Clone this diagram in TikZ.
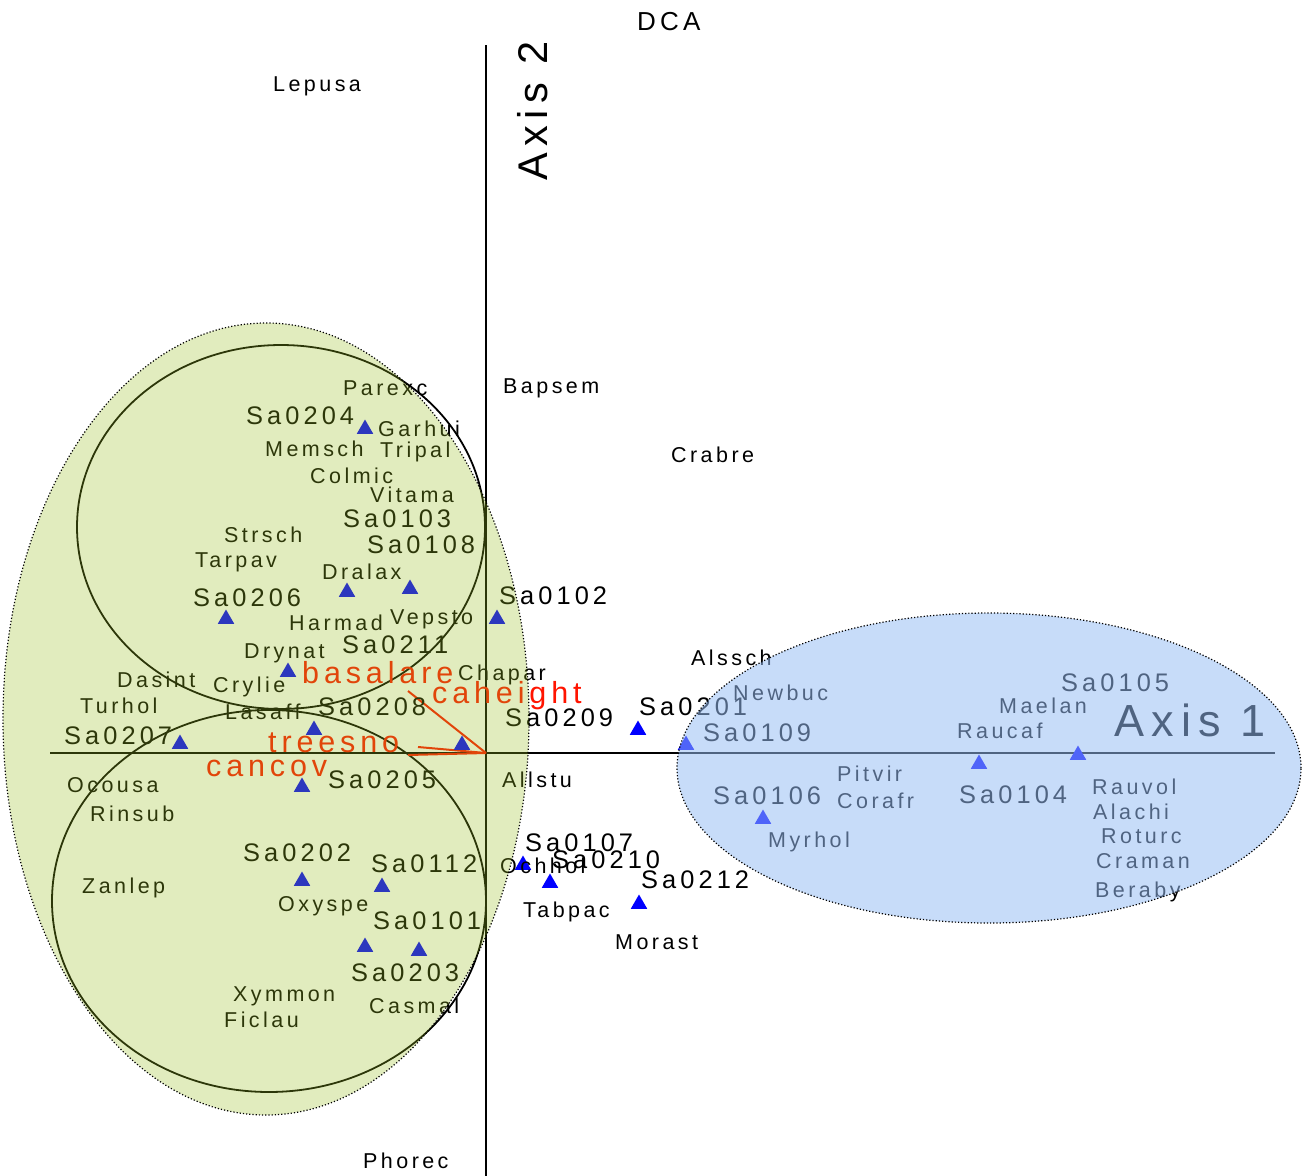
\documentclass[tikz,border=0pt]{standalone}
\usepackage{fontspec}
\setmainfont{Liberation Sans}[LetterSpace=16]
\usetikzlibrary{shapes.geometric}

\definecolor{siteblue}{RGB}{0,0,255}
\definecolor{envred}{RGB}{255,20,0}
\definecolor{grpgreen}{RGB}{155,190,34}
\definecolor{grpblue}{RGB}{151,189,245}

\newcommand{\spfont}{\fontsize{21.5}{24}\selectfont}
\newcommand{\safont}{\fontsize{25.4}{28}\selectfont}
\newcommand{\envfont}{\fontsize{30.5}{34}\selectfont}
\newcommand{\axfont}{\fontsize{45}{48}\selectfont}
\newcommand{\axtwofont}{\fontsize{41.5}{46}\selectfont}
\newcommand{\ttlfont}{\fontsize{26}{30}\selectfont}

\tikzset{
  spec/.style={font=\spfont, inner sep=0pt, anchor=base west},
  samp/.style={font=\safont, inner sep=0pt, anchor=base west},
  envlab/.style={font=\envfont, text=envred, inner sep=0pt, anchor=base west},
  site/.style={regular polygon, regular polygon sides=3, fill=siteblue, minimum size=19pt, inner sep=0pt},
  vec/.style={draw=envred, line width=2pt},
}

\begin{document}
\begin{tikzpicture}[x=1pt, y=-1pt]
		
		\fill[white] (0,0) rectangle (1302,1176);
		\useasboundingbox (0,0) rectangle (1302,1176);
		
		% Title
		\node[font=\ttlfont, inner sep=0pt, anchor=base west] (title) at (637,30) {DCA};
		
		% Axes
		\coordinate (o) at (486,753);
		\coordinate (ax1l) at (50,753);
		\coordinate (ax1r) at (1275,753);
		\coordinate (ax2t) at (486,45);
		\coordinate (ax2b) at (486,1176);
		\draw[line width=2.4pt] (ax1l) -- (ax1r);
		\draw[line width=2.4pt] (ax2t) -- (ax2b);
		\node[font=\axfont, inner sep=0pt, anchor=base west] (axis1) at (1114,736) {Axis 1};
		\node[font=\axtwofont, inner sep=0pt, anchor=base west, rotate=90] (axis2) at (547,181) {Axis 2};
		
		% Cluster circles
		\draw[line width=1.8pt] (281,527) ellipse [x radius=204pt, y radius=182pt];
		\draw[line width=1.8pt] (269,901) ellipse [x radius=217pt, y radius=191pt];
		
		% Environmental vectors
		\coordinate (vbas) at (408,691);
		\coordinate (vtree) at (418,747);
		\coordinate (vcan) at (408,755);
		\draw[vec] (o) -- (vbas);
		\draw[vec] (o) -- (vtree);
		\draw[vec] (o) -- (vcan);
		\node[envlab] (basalare) at (302,683) {basalare};
		\node[envlab] (caheight) at (432,703) {caheight};
		\node[envlab] (treesno) at (268,752) {treesno};
		\node[envlab] (cancov) at (206,776) {cancov};
		
		% Sites
		\node[site] (pt0204) at (365,429) {};
		\node[site] (pt0103) at (347,592) {};
		\node[site] (pt0108) at (410,589) {};
		\node[site] (pt0206) at (226,619) {};
		\node[site] (pt0102) at (497,619) {};
		\node[site] (pt0211) at (288,672) {};
		\node[site] (pt0208) at (314,730) {};
		\node[site] (pt0207) at (180,744) {};
		\node[site] (pt0209) at (462,745) {};
		\node[site] (pt0205) at (302,787) {};
		\node[site] (pt0201) at (638,730) {};
		\node[site] (pt0109) at (686,745) {};
		\node[site] (pt0106) at (763,819) {};
		\node[site] (pt0104) at (979,764) {};
		\node[site] (pt0105) at (1078,755) {};
		\node[site] (pt0202) at (302,881) {};
		\node[site] (pt0112) at (382,887) {};
		\node[site] (pt0101) at (365,947) {};
		\node[site] (pt0203) at (419,951) {};
		\node[site] (pt0107) at (523,865) {};
		\node[site] (pt0210) at (550,883) {};
		\node[site] (pt0212) at (639,904) {};
		
		% Site labels
		\node[samp] (sa0204) at (246,424) {Sa0204};
		\node[samp] (sa0103) at (343,527) {Sa0103};
		\node[samp] (sa0108) at (367,553) {Sa0108};
		\node[samp] (sa0206) at (193,606) {Sa0206};
		\node[samp] (sa0102) at (499,604) {Sa0102};
		\node[samp] (sa0211) at (342,653) {Sa0211};
		\node[samp] (sa0208) at (318,715) {Sa0208};
		\node[samp] (sa0207) at (64,744) {Sa0207};
		\node[samp] (sa0209) at (505,726) {Sa0209};
		\node[samp] (sa0205) at (328,788) {Sa0205};
		\node[samp] (sa0201) at (639,715) {Sa0201};
		\node[samp] (sa0109) at (703,741) {Sa0109};
		\node[samp] (sa0105) at (1061,691) {Sa0105};
		\node[samp] (sa0106) at (713,804) {Sa0106};
		\node[samp] (sa0104) at (959,803) {Sa0104};
		\node[samp] (sa0202) at (243,861) {Sa0202};
		\node[samp] (sa0112) at (371,872) {Sa0112};
		\node[samp] (sa0101) at (373,929) {Sa0101};
		\node[samp] (sa0203) at (351,981) {Sa0203};
		\node[samp] (sa0107) at (525,851) {Sa0107};
		\node[samp] (sa0210) at (552,868) {Sa0210};
		\node[samp] (sa0212) at (641,888) {Sa0212};
		
		% Species
		\node[spec] (lepusa) at (273,91) {Lepusa};
		\node[spec] (bapsem) at (503,393) {Bapsem};
		\node[spec] (crabre) at (671,462) {Crabre};
		\node[spec] (alssch) at (691,665) {Alssch};
		\node[spec] (allstu) at (502,787) {Allstu};
		\node[spec] (ochhol) at (500,873) {Ochhol};
		\node[spec] (tabpac) at (523,917) {Tabpac};
		\node[spec] (morast) at (615,949) {Morast};
		\node[spec] (phorec) at (363,1168) {Phorec};
		\node[spec] (parexc) at (343,395) {Parexc};
		\node[spec] (garhui) at (378,436) {Garhui};
		\node[spec] (memsch) at (265,456) {Memsch};
		\node[spec] (tripal) at (380,457) {Tripal};
		\node[spec] (colmic) at (310,483) {Colmic};
		\node[spec] (vitama) at (370,502) {Vitama};
		\node[spec] (strsch) at (224,542) {Strsch};
		\node[spec] (tarpav) at (195,567) {Tarpav};
		\node[spec] (dralax) at (322,579) {Dralax};
		\node[spec] (harmad) at (289,630) {Harmad};
		\node[spec] (vepsto) at (390,624) {Vepsto};
		\node[spec] (drynat) at (244,658) {Drynat};
		\node[spec] (chapar) at (458,680) {Chapar};
		\node[spec] (dasint) at (117,687) {Dasint};
		\node[spec] (crylie) at (213,692) {Crylie};
		\node[spec] (turhol) at (80,713) {Turhol};
		\node[spec] (lasaff) at (225,719) {Lasaff};
		\node[spec] (ocousa) at (67,792) {Ocousa};
		\node[spec] (rinsub) at (90,821) {Rinsub};
		\node[spec] (zanlep) at (82,893) {Zanlep};
		\node[spec] (oxyspe) at (278,911) {Oxyspe};
		\node[spec] (xymmon) at (233,1001) {Xymmon};
		\node[spec] (ficlau) at (224,1027) {Ficlau};
		\node[spec] (casmal) at (369,1013) {Casmal};
		\node[spec] (newbuc) at (733,700) {Newbuc};
		\node[spec] (maelan) at (999,713) {Maelan};
		\node[spec] (raucaf) at (957,738) {Raucaf};
		\node[spec] (pitvir) at (837,781) {Pitvir};
		\node[spec] (corafr) at (837,808) {Corafr};
		\node[spec] (myrhol) at (768,847) {Myrhol};
		\node[spec] (rauvol) at (1092,794) {Rauvol};
		\node[spec] (alachi) at (1093,819) {Alachi};
		\node[spec] (roturc) at (1101,843) {Roturc};
		\node[spec] (craman) at (1096,868) {Craman};
		\node[spec] (beraby) at (1095,897) {Beraby};
		
		% Group hulls
		\draw[dotted, line width=1.2pt, fill=grpgreen, fill opacity=0.29] (266,719) ellipse [x radius=263pt, y radius=396pt];
		\draw[dotted, line width=1.2pt, fill=grpblue, fill opacity=0.53] (989,768) ellipse [x radius=312pt, y radius=155pt];
		
	\end{tikzpicture}
\end{document}
